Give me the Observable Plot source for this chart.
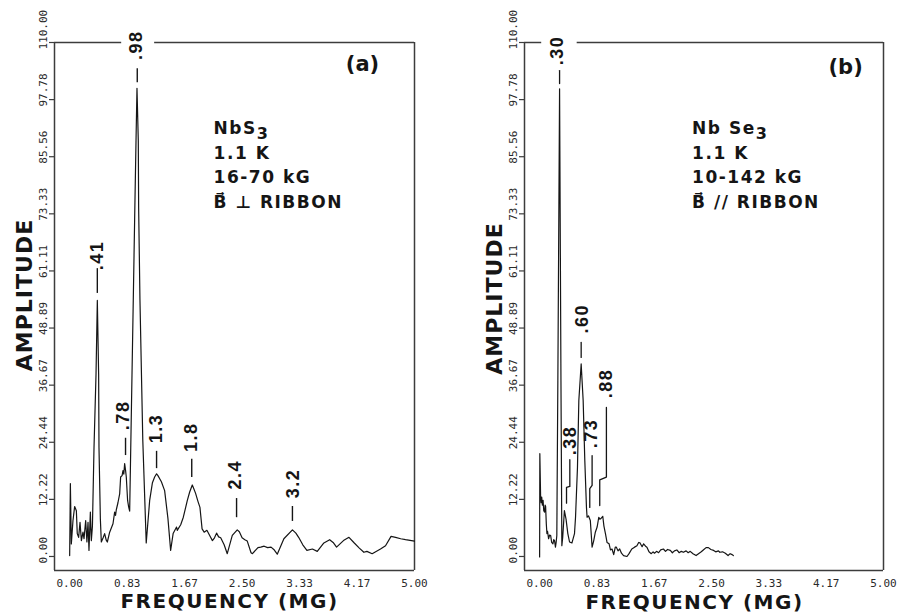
<!DOCTYPE html>
<html>
<head>
<meta charset="utf-8">
<script src="https://cdn.jsdelivr.net/npm/d3@7"></script>
<script src="https://cdn.jsdelivr.net/npm/@observablehq/plot@0.6"></script>
<style>
  body { margin: 0; background: #fff; }
  #wrap { display: flex; width: 901px; height: 613px; background: #fff; }
  svg { display: block; }
</style>
</head>
<body>
<div id="wrap"></div>
<script>
// ---------- axis ticks ----------
const yTicks = [0, 12.222, 24.444, 36.667, 48.889, 61.111, 73.333, 85.556, 97.778, 110];
const yTickLabels = ["0.00", "12.22", "24.44", "36.67", "48.89", "61.11", "73.33", "85.56", "97.78", "110.00"];
const xTicks = [0, 0.8333, 1.6667, 2.5, 3.3333, 4.1667, 5];
const xTickLabels = ["0.00", "0.83", "1.67", "2.50", "3.33", "4.17", "5.00"];

// ---------- panel (a): NbS3 spectrum ----------
const freqA = [0.000,0.010,0.024,0.048,0.072,0.097,0.110,0.130,0.150,0.170,0.193,0.208,0.232,0.250,0.266,0.280,0.300,0.314,0.330,
  0.353,0.382,0.401,0.420,0.425,0.445,0.459,0.485,0.507,0.530,0.546,0.580,0.628,0.652,0.665,0.676,0.700,0.725,0.739,0.760,0.773,
  0.785,0.797,0.810,0.821,0.840,0.855,0.870,0.942,0.962,0.976,0.995,1.000,1.019,1.060,1.110,1.160,1.200,1.232,1.260,1.280,1.330,
  1.377,1.425,1.464,1.500,1.550,1.560,1.610,1.648,1.706,1.740,1.778,1.800,1.826,1.860,1.889,1.920,1.950,1.990,2.030,2.070,2.100,
  2.130,2.160,2.190,2.240,2.285,2.358,2.430,2.460,2.500,2.540,2.575,2.630,2.650,2.730,2.770,2.820,2.870,2.920,2.960,3.010,3.106,
  3.230,3.280,3.320,3.380,3.440,3.520,3.590,3.686,3.770,3.820,3.870,3.970,4.050,4.120,4.200,4.266,4.310,4.386,4.507,4.580,4.660,
  4.725,4.800,4.870,5.000];
const ampA = [0.2,15.6,2.7,7.7,10.7,9.8,4.9,4.1,7.3,3.4,5.2,3.8,7.7,3.1,7.3,1.3,9.5,3.4,6.5,
  23.4,39.0,54.8,39.0,23.4,8.0,3.1,4.0,4.9,3.5,3.1,5.2,7.0,9.5,8.8,10.0,11.5,13.4,17.0,17.3,18.4,
  17.6,19.9,18.5,17.0,12.0,10.6,9.7,72.0,89.0,100.2,89.0,74.7,55.0,25.0,2.9,12.0,15.8,17.0,17.7,17.3,16.0,
  14.1,8.1,1.3,4.9,6.3,5.6,6.8,8.4,12.0,13.8,15.3,14.5,13.5,11.8,10.5,5.9,5.2,5.6,4.5,3.4,4.0,
  5.0,4.2,4.0,2.5,0.6,4.5,5.7,5.3,4.0,3.6,3.3,0.8,0.6,1.9,2.0,2.2,1.9,2.0,1.5,0.5,3.8,
  5.7,5.0,4.1,2.5,1.3,1.6,1.1,2.9,3.6,3.0,2.0,3.4,4.1,3.0,1.8,0.9,1.1,0.6,1.6,2.3,4.3,
  4.1,3.8,3.6,3.3];

const peakLabelsA = [".98", ".41", ".78", "1.3", "1.8", "2.4", "3.2"];
const peakTextFA  = [0.97, 0.40, 0.775, 1.26, 1.76, 2.406, 3.246];
const peakTextVA  = [109.4, 64.4, 30.2, 27.4, 25.5, 17.5, 15.6];
const peakTickFA  = [0.98, 0.401, 0.81, 1.26, 1.77, 2.42, 3.23];
const peakTickTopA = [104.4, 61.6, 25.3, 22.5, 20.8, 12.4, 10.7];
const peakTickBotA = [101.4, 56.3, 21.6, 18.8, 16.9, 8.3, 7.5];
const infoA = ["NbS3", "1.1 K", "16-70 kG", "B\u20D7 \u22A5 RIBBON"];
const topGapA = [0.754, 1.232];

// ---------- panel (b): NbSe3 spectrum ----------
const freqB = [0.000,0.003,0.014,0.022,0.030,0.040,0.050,0.060,0.072,0.080,0.087,0.097,0.106,0.115,0.130,0.145,0.160,0.175,0.193,
  0.205,0.217,0.230,0.240,0.250,0.265,0.290,0.310,0.323,0.335,0.360,0.384,0.410,0.435,0.470,0.507,0.522,0.550,0.570,0.604,0.633,
  0.657,0.681,0.690,0.710,0.737,0.763,0.787,0.810,0.836,0.860,0.875,0.890,0.918,0.935,0.957,0.980,1.010,1.030,1.053,1.077,1.100,
  1.116,1.140,1.164,1.190,1.220,1.270,1.300,1.340,1.380,1.415,1.440,1.460,1.490,1.512,1.540,1.560,1.590,1.623,1.650,1.670,1.700,
  1.730,1.760,1.800,1.830,1.860,1.900,1.930,1.960,1.995,2.030,2.060,2.090,2.130,2.160,2.190,2.230,2.275,2.320,2.350,2.380,2.420,
  2.454,2.490,2.530,2.560,2.600,2.620,2.660,2.700,2.740,2.770,2.800,2.816];
const ampB = [-0.1,22.0,13.0,11.5,12.7,11.0,12.0,9.8,9.5,11.0,10.7,7.0,4.9,5.4,3.8,4.6,4.5,3.0,2.7,
  3.6,3.4,2.0,3.0,4.5,37.7,100.1,37.7,2.3,4.0,9.8,8.0,4.9,3.1,2.9,4.9,8.4,19.0,33.4,41.2,33.4,
  20.5,10.5,8.4,8.7,7.7,2.0,3.4,5.2,6.3,8.4,8.0,8.1,8.6,6.5,4.9,3.0,2.7,1.4,1.6,0.4,2.0,
  2.0,1.2,1.6,0.7,0.2,0.0,0.6,1.6,2.0,2.3,3.0,2.9,2.1,2.7,2.2,2.0,1.0,0.6,1.0,0.7,1.1,
  0.8,1.4,1.6,1.1,1.5,1.3,0.8,1.2,1.4,0.8,1.1,0.9,1.2,0.8,1.1,0.6,0.2,0.7,1.0,1.4,1.9,
  1.9,1.5,1.3,1.0,1.2,0.9,1.0,0.7,0.2,0.6,0.4,0.2];

const peakLabelsB = [".30", ".60", ".38", ".73", ".88"];
const peakTextFB  = [0.26, 0.62, 0.45, 0.755, 0.97];
const peakTextVB  = [108.3, 50.9, 24.8, 26.3, 37.0];
const leaderIdB = [".30",".30", ".60",".60", ".38",".38",".38",".38", ".73",".73",".73",".73", ".88",".88",".88",".88"];
const leaderFB  = [0.29,0.29, 0.604,0.604, 0.439,0.439,0.391,0.391, 0.763,0.763,0.729,0.729, 0.971,0.971,0.874,0.874];
const leaderVB  = [104.0,101.2, 45.8,42.6, 20.7,15.0,14.8,11.4, 21.6,15.2,14.5,10.5, 31.9,17.0,16.4,10.9];
const infoB = ["Nb Se3", "1.1 K", "10-142 kG", "B\u20D7 // RIBBON"];
const topGapB = [0.03, 0.546];

// ---------- shared scale extents ----------
const X_MIN = -0.22, X_MAX = 5, Y_MIN = -3, Y_MAX = 110;
const TICK_LEN = 0.0725; // ~5px in x units
const INK = "#151515", FRAME = "#3c3c3c";

function panel(o) {
  const series = o.freq.map((f, i) => ({f, a: o.amp[i]}));
  const peaks = o.labels.map((label, i) => ({label, f: o.textF[i], v: o.textV[i]}));
  const topSegs = [{x1: X_MIN, x2: o.gap[0]}, {x1: o.gap[1], x2: X_MAX}];
  const marks = [
    Plot.ruleX([X_MIN, X_MAX], {stroke: FRAME, strokeWidth: 1.5}),
    Plot.ruleY([Y_MIN], {stroke: FRAME, strokeWidth: 1.5}),
    Plot.ruleY(topSegs, {x1: "x1", x2: "x2", y: Y_MAX, stroke: FRAME, strokeWidth: 1.5}),
    Plot.ruleY(yTicks, {y: d => d, x1: X_MIN - TICK_LEN, x2: X_MIN, stroke: FRAME, strokeWidth: 1.2}),
    Plot.text(yTicks, {x: X_MIN, y: d => d, text: (d, i) => yTickLabels[i], rotate: -90, textAnchor: "start",
      dx: -11, dy: 7, fontSize: 11, fontFamily: "DejaVu Sans Mono", fill: "#2a2a2a"}),
    Plot.text(xTicks, {x: d => d, y: Y_MIN, text: (d, i) => xTickLabels[i], dy: 13,
      fontSize: 11, fontFamily: "DejaVu Sans Mono", fill: "#2a2a2a"}),
    Plot.line(series, {x: "f", y: "a", stroke: INK, strokeWidth: 1.2, strokeLinejoin: "round"}),
    Plot.text(peaks, {x: "f", y: "v", text: "label", rotate: -90, fontSize: 18, fontWeight: "bold",
      fontFamily: "Liberation Sans", fill: INK}),
    Plot.text(o.info, {x: o.infoX, y: (d, i) => 90.5 - i * 5.33, text: d => d, textAnchor: "start", lineAnchor: "bottom",
      fontSize: 17, fontWeight: "bold", fontFamily: "DejaVu Sans", fill: INK}),
    Plot.text([o.letter], {x: o.letterX, y: o.letterY, text: d => d, fontSize: 21, fontFamily: "DejaVu Sans",
      fontWeight: "bold", fill: INK}),
    Plot.text(["AMPLITUDE"], {frameAnchor: "left", text: d => d, rotate: -90, textAnchor: "middle", dx: -30, dy: o.ampDy,
      fontSize: 22, fontWeight: "bold", fontFamily: "DejaVu Sans", fill: INK}),
    Plot.text(["FREQUENCY (MG)"], {frameAnchor: "bottom", text: d => d, textAnchor: "middle", lineAnchor: "bottom",
      dx: o.freqDx, dy: o.freqDy, fontSize: 20, fontWeight: "bold", fontFamily: "DejaVu Sans", fill: INK})
  ];
  if (o.tickF) {
    const ticks = o.tickF.map((f, i) => ({f, t1: o.tickTop[i], t2: o.tickBot[i]}));
    marks.push(Plot.ruleX(ticks, {x: "f", y1: "t1", y2: "t2", stroke: INK, strokeWidth: 1.4}));
  }
  if (o.leaderId) {
    const lead = o.leaderId.map((id, i) => ({id, f: o.leaderF[i], v: o.leaderV[i]}));
    marks.push(Plot.line(lead, {x: "f", y: "v", z: "id", stroke: INK, strokeWidth: 1.3}));
  }
  const svg = Plot.plot({
    width: o.width, height: 613,
    marginLeft: o.marginLeft, marginRight: o.marginRight, marginTop: 42, marginBottom: 43,
    x: {domain: [X_MIN, X_MAX], axis: null},
    y: {domain: [Y_MIN, Y_MAX], axis: null},
    style: {background: "#fff", color: INK, fontFamily: "DejaVu Sans", overflow: "visible"},
    marks
  });
  const ns = "http://www.w3.org/2000/svg";
  const infoSet = new Set(o.info);
  const peakSet = new Set(o.labels);
  d3.select(svg).selectAll("text").each(function () {
    const s = this.textContent;
    if (infoSet.has(s)) {
      this.setAttribute("letter-spacing", "1.5");
      if (/^Nb.*3$/.test(s)) {
        while (this.firstChild) this.removeChild(this.firstChild);
        const a = document.createElementNS(ns, "tspan");
        a.textContent = s.slice(0, -1);
        const b = document.createElementNS(ns, "tspan");
        b.textContent = "3";
        b.setAttribute("dy", "5");
        b.setAttribute("font-size", "16");
        this.appendChild(a);
        this.appendChild(b);
      }
    } else if (peakSet.has(s)) {
      this.setAttribute("letter-spacing", "1.5");
    } else if (s === "AMPLITUDE") {
      this.setAttribute("letter-spacing", "1");
    } else if (s === "FREQUENCY (MG)") {
      this.setAttribute("letter-spacing", "1.5");
    }
  });
  return svg;
}

const wrap = document.getElementById("wrap");
wrap.append(panel({
  width: 450, marginLeft: 54, marginRight: 36,
  freq: freqA, amp: ampA,
  labels: peakLabelsA, textF: peakTextFA, textV: peakTextVA,
  tickF: peakTickFA, tickTop: peakTickTopA, tickBot: peakTickBotA,
  info: infoA, infoX: 2.087, letter: "(a)", letterX: 4.246, letterY: 105.3,
  gap: topGapA, ampDy: -11.5, freqDx: -5, freqDy: 37
}));
wrap.append(panel({
  width: 451, marginLeft: 74, marginRight: 18,
  freq: freqB, amp: ampB,
  labels: peakLabelsB, textF: peakTextFB, textV: peakTextVB,
  leaderId: leaderIdB, leaderF: leaderFB, leaderV: leaderVB,
  info: infoB, infoX: 2.217, letter: "(b)", letterX: 4.449, letterY: 104.6,
  gap: topGapB, ampDy: -8, freqDx: -9.5, freqDy: 38
}));
</script>
</body>
</html>
